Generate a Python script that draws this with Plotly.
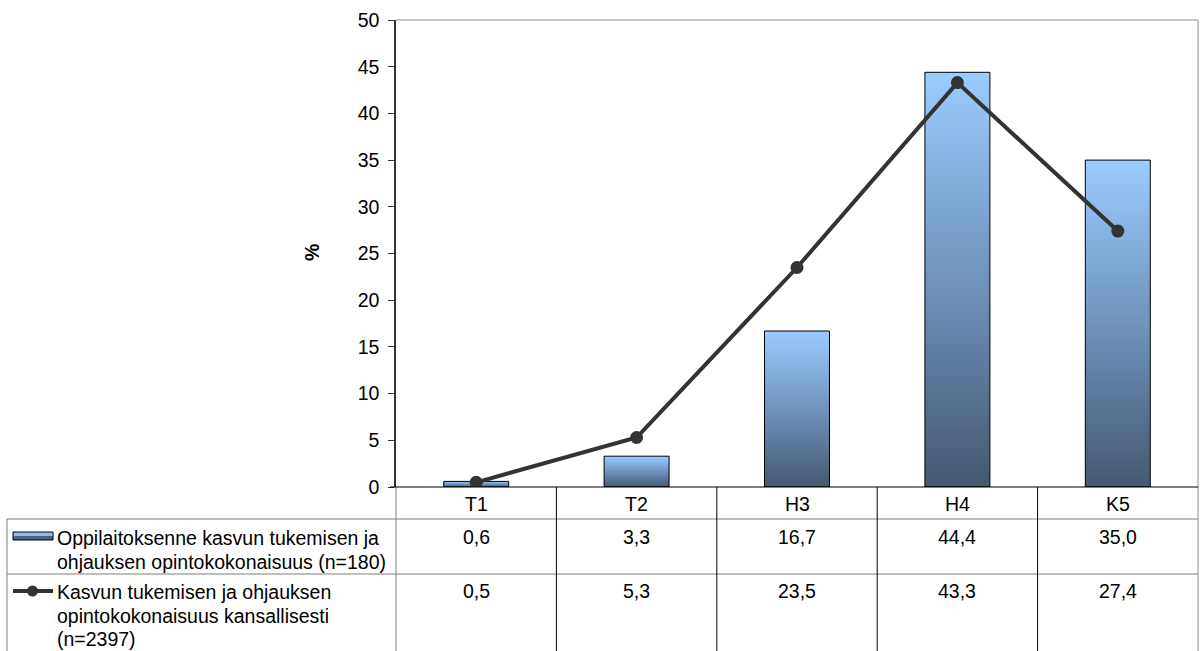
import plotly.graph_objects as go

# ---------------- data ----------------
categories = ["T1", "T2", "H3", "H4", "K5"]
school_values = [0.6, 3.3, 16.7, 44.4, 35.0]
national_values = [0.5, 5.3, 23.5, 43.3, 27.4]
series_names = [
    ["Oppilaitoksenne kasvun tukemisen ja", "ohjauksen opintokokonaisuus (n=180)"],
    ["Kasvun tukemisen ja ohjauksen", "opintokokonaisuus kansallisesti", "(n=2397)"],
]
y_title = "%"

# ---------------- layout constants (pixels) ----------------
W, H = 1200, 651
L, R, T, B = 396, 1198, 20, 487
FONT = "Liberation Sans, Arial, sans-serif"
FS = 19.5
BAR_W = 0.405
LIGHT = "#9ACCFF"
DARK = "#465870"
LINE_C = "#333333"


def px2x(X):
    return (X - L) / (R - L)


def px2y(Y):
    return (B - Y) / (B - T)


def fmt(v):
    return f"{v:.1f}".replace(".", ",")


fig = go.Figure()

# bars with vertical gradient, one filled trace per bar
for i, v in enumerate(school_values):
    fig.add_trace(go.Scatter(
        x=[i - BAR_W / 2, i + BAR_W / 2, i + BAR_W / 2, i - BAR_W / 2, i - BAR_W / 2],
        y=[0, 0, v, v, 0],
        mode="lines",
        fill="toself",
        fillgradient=dict(type="vertical",
                          colorscale=[[0, DARK], [0.5, "#6f93bd"], [1, LIGHT]]),
        line=dict(color="black", width=1),
        hoverinfo="skip",
        showlegend=False,
    ))

# national line
fig.add_trace(go.Scatter(
    x=list(range(len(categories))),
    y=national_values,
    mode="lines+markers",
    line=dict(color=LINE_C, width=4),
    marker=dict(color=LINE_C, size=13),
    showlegend=False,
    hoverinfo="skip",
))

shapes = []
annotations = []

yb = px2y(651)        # bottom of table
y_hdr = px2y(519)     # bottom of header row
y_r1 = px2y(574)      # bottom of first row
x_left = px2x(7)

# horizontal table lines
for yy in (y_hdr, y_r1):
    shapes.append(dict(type="line", xref="paper", yref="paper",
                       x0=x_left, x1=1, y0=yy, y1=yy,
                       line=dict(color="#7f7f7f", width=1)))
# left border of legend column
shapes.append(dict(type="line", xref="paper", yref="paper",
                   x0=x_left, x1=x_left, y0=y_hdr, y1=yb,
                   line=dict(color="#7f7f7f", width=1)))
# axis continuation through table
shapes.append(dict(type="line", xref="paper", yref="paper",
                   x0=0, x1=0, y0=0, y1=yb,
                   line=dict(color="#7f7f7f", width=1)))
# right border (plot + table)
shapes.append(dict(type="line", xref="paper", yref="paper",
                   x0=1, x1=1, y0=yb, y1=1,
                   line=dict(color="#8c8c8c", width=1)))
# top border
shapes.append(dict(type="line", xref="paper", yref="paper",
                   x0=0, x1=1, y0=1, y1=1,
                   line=dict(color="#8c8c8c", width=1)))
# column separators
for i in range(len(categories) - 1):
    shapes.append(dict(type="line", xref="x", yref="paper",
                       x0=i + 0.5, x1=i + 0.5, y0=0, y1=yb,
                       line=dict(color="black", width=1)))
# zero line
shapes.append(dict(type="line", xref="paper", yref="paper",
                   x0=px2x(390), x1=1, y0=0, y1=0,
                   line=dict(color="black", width=1)))

# header labels and values
for i, c in enumerate(categories):
    annotations.append(dict(xref="x", yref="paper", x=i, y=px2y(504),
                            text=c, showarrow=False, yanchor="middle",
                            font=dict(family=FONT, size=FS, color="black")))
    annotations.append(dict(xref="x", yref="paper", x=i, y=px2y(537),
                            text=fmt(school_values[i]), showarrow=False, yanchor="middle",
                            font=dict(family=FONT, size=FS, color="black")))
    annotations.append(dict(xref="x", yref="paper", x=i, y=px2y(591),
                            text=fmt(national_values[i]), showarrow=False, yanchor="middle",
                            font=dict(family=FONT, size=FS, color="black")))

# legend texts
row_starts = [538, 592]
for r, lines in enumerate(series_names):
    for k, ln in enumerate(lines):
        annotations.append(dict(xref="paper", yref="paper", x=px2x(55),
                                y=px2y(row_starts[r] + 23.5 * k),
                                text=ln, showarrow=False, xanchor="left", yanchor="middle",
                                font=dict(family=FONT, size=FS, color="black")))

# legend symbols
shapes.append(dict(type="rect", xref="paper", yref="paper",
                   x0=px2x(13), x1=px2x(53), y0=px2y(540), y1=px2y(536),
                   fillcolor="#4d6584", line=dict(width=0)))
shapes.append(dict(type="rect", xref="paper", yref="paper",
                   x0=px2x(13), x1=px2x(53), y0=px2y(536), y1=px2y(532),
                   fillcolor="#8fbfee", line=dict(width=0)))
shapes.append(dict(type="rect", xref="paper", yref="paper",
                   x0=px2x(13), x1=px2x(53), y0=px2y(540), y1=px2y(532),
                   fillcolor="rgba(0,0,0,0)", line=dict(color="black", width=1)))
shapes.append(dict(type="line", xref="paper", yref="paper",
                   x0=px2x(13), x1=px2x(53), y0=px2y(591), y1=px2y(591),
                   line=dict(color=LINE_C, width=4)))
shapes.append(dict(type="circle", xref="paper", yref="paper",
                   x0=px2x(27), x1=px2x(38), y0=px2y(596.5), y1=px2y(585.5),
                   fillcolor=LINE_C, line=dict(color=LINE_C, width=0)))

# y-axis title
annotations.append(dict(xref="paper", yref="paper", x=px2x(312), y=px2y(253),
                        text=f"<b>{y_title}</b>", showarrow=False, textangle=-90,
                        xanchor="center", yanchor="middle",
                        font=dict(family=FONT, size=FS, color="black")))

fig.update_layout(
    width=W, height=H,
    margin=dict(l=L, r=W - R, t=T, b=H - B, pad=0),
    paper_bgcolor="white", plot_bgcolor="white",
    showlegend=False,
    shapes=shapes,
    annotations=annotations,
    xaxis=dict(range=[-0.5, len(categories) - 0.5], showgrid=False, zeroline=False,
               showticklabels=False, showline=False, ticks="", fixedrange=True),
    yaxis=dict(range=[0, 50], dtick=5, showgrid=False, zeroline=False,
               showline=True, linecolor="#333333", linewidth=1.5,
               ticks="outside", ticklen=6, tickcolor="#333333", tickwidth=1,
               ticklabelstandoff=5,
               tickfont=dict(family=FONT, size=FS, color="black"), fixedrange=True),
)

fig.write_html(
    "out.html",
    config={"displayModeBar": False},
    post_script="document.body.style.margin='0';document.body.style.overflow='hidden';",
)
